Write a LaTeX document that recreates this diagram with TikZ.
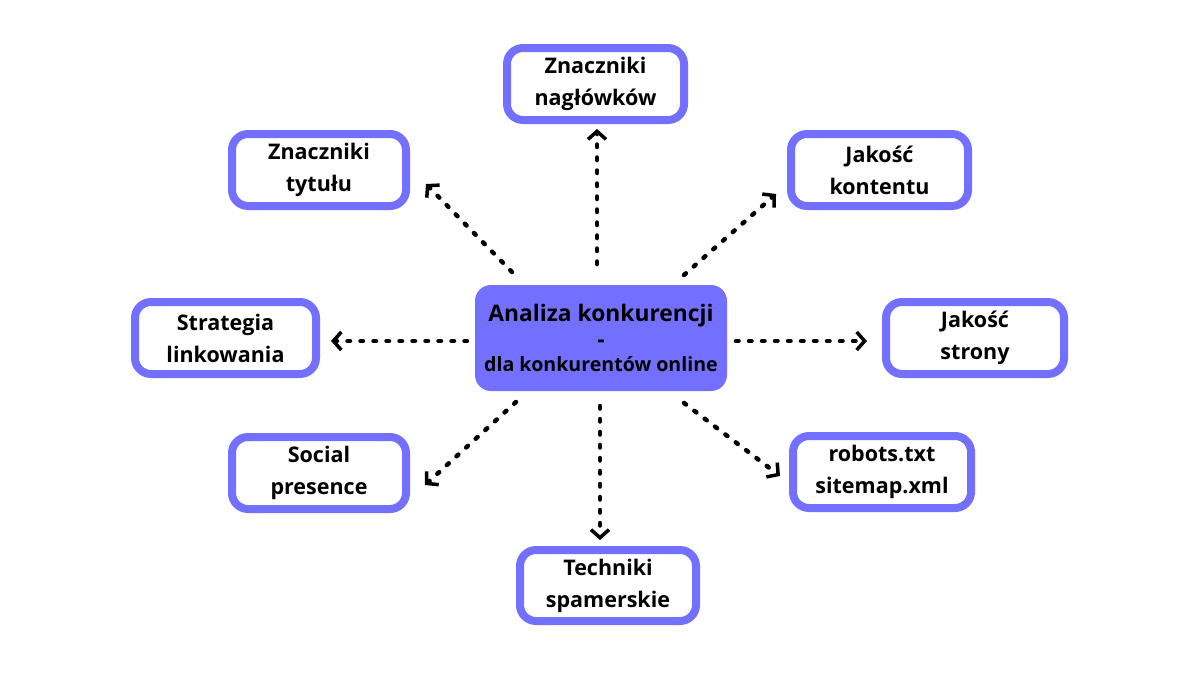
\documentclass[tikz,border=0pt]{standalone}
\usepackage{fontspec}
\setmainfont{Open Sans}
\usetikzlibrary{arrows.meta}
\definecolor{vio}{RGB}{116,112,255}
\tikzset{
  outerbox/.style={draw=vio, line width=8pt, fill=white, rounded corners=16pt,
    align=center, inner sep=0pt, font=\fontsize{21.5}{32}\selectfont\bfseries, text=black},
  centerbox/.style={fill=vio, rounded corners=16pt, align=center, inner sep=0pt, text=black,
    font=\fontsize{22.8}{26}\selectfont\bfseries},
  dotarrow/.style={line width=4.5pt, line cap=round, dash pattern=on 2.5pt off 10.5pt,
    -{Straight Barb[length=8pt,width=18pt,line width=3.5pt,line cap=butt]}}
}
\begin{document}
\begin{tikzpicture}[x=1pt,y=-1pt]
\useasboundingbox (0,0) rectangle (1200,675);
\node[centerbox, minimum width=252pt, minimum height=106pt] (c) at (601,338)
  {Analiza konkurencji\\[0pt]
   -\\[-2pt]
   {\fontsize{19.6}{26}\selectfont dla konkurentów online}};
\node[outerbox, minimum width=177pt, minimum height=72pt] (nag) at (595.5,84) {Znaczniki\\nagłówków};
\node[outerbox, minimum width=174pt, minimum height=72pt] (tyt) at (319,170) {Znaczniki\\tytułu};
\node[outerbox, minimum width=177pt, minimum height=72pt] (kon) at (879.5,170) {Jakość\\kontentu};
\node[outerbox, minimum width=181pt, minimum height=72pt] (lin) at (225.5,338) {Strategia\\linkowania};
\node[outerbox, minimum width=178pt, minimum height=72pt] (str) at (975,338) {Jakość\\strony};
\node[outerbox, minimum width=174pt, minimum height=72pt] (soc) at (319,473) {Social\\presence};
\node[outerbox, minimum width=178pt, minimum height=72pt] (rob) at (882,472) {robots.txt\\sitemap.xml};
\node[outerbox, minimum width=176pt, minimum height=71pt] (spam) at (608,585.5) {Techniki\\spamerskie};
% arrow end points
\coordinate (s1) at (597,264); \coordinate (e1) at (597,129);
\coordinate (s2) at (600,406); \coordinate (e2) at (600,540);
\coordinate (s3) at (467,341); \coordinate (e3) at (331,341);
\coordinate (s4) at (736,341); \coordinate (e4) at (867,341);
\coordinate (s5) at (512,272); \coordinate (e5) at (426,184);
\coordinate (s6) at (684,275); \coordinate (e6) at (776,194);
\coordinate (s7) at (516,402); \coordinate (e7) at (425,485);
\coordinate (s8) at (684,403); \coordinate (e8) at (780,476);
\foreach \i in {1,...,8} { \draw[dotarrow] (s\i) -- (e\i); }
\end{tikzpicture}
\end{document}
